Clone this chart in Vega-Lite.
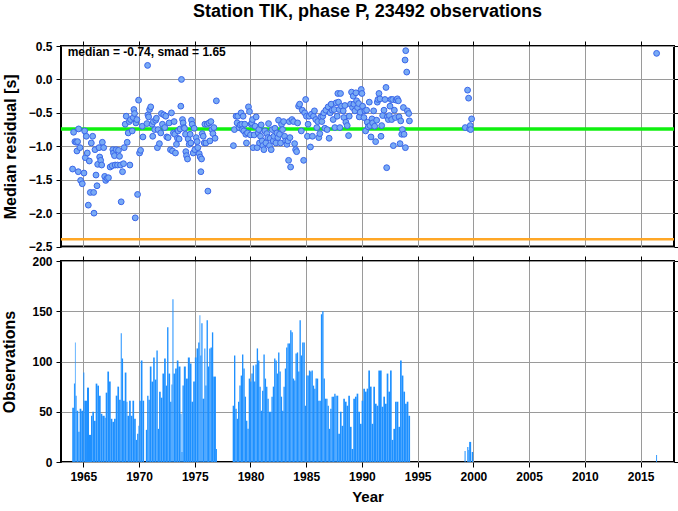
{
"$schema": "https://vega.github.io/schema/vega-lite/v6.json",
"padding": {"left": 0, "top": 2, "right": 0, "bottom": 0},
"config": {
 "font": "Liberation Sans",
 "view": {"stroke": "#000", "strokeWidth": 2},
 "axis": {"domain": false, "tickColor": "#000", "tickSize": 5, "tickWidth": 1, "gridColor": "#9a9a9a", "gridWidth": 1, "gridOpacity": 1, "labelFont": "Liberation Sans", "labelFontWeight": "bold", "labelFontSize": 12, "labelColor": "#000", "labelPadding": 4, "titleFont": "Liberation Sans", "titleFontWeight": "bold", "titleFontSize": 16, "titleColor": "#000"}
},
"datasets": {
 "pts": [
{"t":1964.04,"v":-1.34},{"t":1964.13,"v":-0.79},{"t":1964.25,"v":-0.93},{"t":1964.37,"v":-0.94},{"t":1964.43,"v":-1.07},{"t":1964.49,"v":-0.93},{"t":1964.58,"v":-0.74},{"t":1964.55,"v":-1.38},{"t":1964.7,"v":-1.02},{"t":1964.76,"v":-1.51},{"t":1964.91,"v":-1.56},{"t":1965.06,"v":-1.40},{"t":1965.12,"v":-0.77},{"t":1965.18,"v":-1.17},{"t":1965.27,"v":-0.85},{"t":1965.36,"v":-1.10},{"t":1965.45,"v":-1.88},{"t":1965.54,"v":-1.22},{"t":1965.63,"v":-1.69},{"t":1965.72,"v":-0.95},{"t":1965.84,"v":-0.85},{"t":1965.93,"v":-1.69},{"t":1965.96,"v":-2.0},{"t":1966.05,"v":-1.05},{"t":1966.14,"v":-1.43},{"t":1966.23,"v":-1.59},{"t":1966.29,"v":-1.27},{"t":1966.41,"v":-1.02},{"t":1966.47,"v":-1.16},{"t":1966.56,"v":-1.21},{"t":1966.65,"v":-1.28},{"t":1966.71,"v":-0.94},{"t":1966.83,"v":-1.02},{"t":1966.92,"v":-1.45},{"t":1967.01,"v":-1.51},{"t":1967.13,"v":-1.48},{"t":1967.26,"v":-1.47},{"t":1967.41,"v":-1.31},{"t":1967.59,"v":-1.29},{"t":1967.65,"v":-1.05},{"t":1967.71,"v":-1.10},{"t":1967.8,"v":-1.14},{"t":1967.86,"v":-1.28},{"t":1967.95,"v":-1.05},{"t":1968.07,"v":-1.28},{"t":1968.16,"v":-1.06},{"t":1968.25,"v":-1.15},{"t":1968.34,"v":-1.28},{"t":1968.4,"v":-1.83},{"t":1968.52,"v":-1.38},{"t":1968.61,"v":-1.26},{"t":1968.67,"v":-1.02},{"t":1968.76,"v":-0.67},{"t":1968.85,"v":-0.55},{"t":1968.94,"v":-0.94},{"t":1969.03,"v":-0.80},{"t":1969.12,"v":-0.63},{"t":1969.18,"v":-1.28},{"t":1969.24,"v":-0.60},{"t":1969.39,"v":-0.77},{"t":1969.48,"v":-0.57},{"t":1969.54,"v":-0.45},{"t":1969.6,"v":-0.51},{"t":1969.66,"v":-2.07},{"t":1969.72,"v":-0.65},{"t":1969.81,"v":-0.60},{"t":1969.87,"v":-1.72},{"t":1969.96,"v":-0.31},{"t":1970.05,"v":-1.10},{"t":1970.14,"v":-1.06},{"t":1970.29,"v":-0.70},{"t":1970.35,"v":-0.86},
{"t":1970.71,"v":-0.66},{"t":1970.77,"v":0.21},{"t":1970.8,"v":-0.53},{"t":1970.86,"v":-0.56},{"t":1970.95,"v":-0.45},{"t":1971.05,"v":-0.41},{"t":1971.17,"v":-0.67},{"t":1971.23,"v":-0.85},{"t":1971.29,"v":-0.63},{"t":1971.41,"v":-0.75},{"t":1971.50,"v":-0.61},{"t":1971.56,"v":-0.58},{"t":1971.65,"v":-1.02},{"t":1971.71,"v":-0.75},{"t":1971.83,"v":-0.96},{"t":1971.95,"v":-0.80},{"t":1972.01,"v":-0.51},{"t":1972.1,"v":-0.67},{"t":1972.22,"v":-0.53},{"t":1972.31,"v":-0.72},{"t":1972.4,"v":-0.55},{"t":1972.49,"v":-0.86},{"t":1972.61,"v":-0.87},{"t":1972.7,"v":-0.65},{"t":1972.82,"v":-1.05},{"t":1972.91,"v":-0.50},{"t":1973.0,"v":-1.07},{"t":1973.09,"v":-0.80},{"t":1973.15,"v":-0.63},{"t":1973.21,"v":-0.82},{"t":1973.27,"v":-1.10},{"t":1973.36,"v":-0.97},{"t":1973.45,"v":-0.88},{"t":1973.51,"v":-0.77},{"t":1973.6,"v":-0.89},{"t":1973.69,"v":-0.74},{"t":1973.75,"v":-0.40},{"t":1973.81,"v":0.0},{"t":1973.9,"v":-0.60},{"t":1973.96,"v":-0.65},{"t":1974.02,"v":-0.72},{"t":1974.08,"v":-0.73},{"t":1974.17,"v":-0.82},{"t":1974.2,"v":-1.08},{"t":1974.26,"v":-1.14},{"t":1974.35,"v":-1.19},{"t":1974.41,"v":-0.89},{"t":1974.5,"v":-0.97},{"t":1974.59,"v":-0.82},{"t":1974.65,"v":-0.95},{"t":1974.71,"v":-0.61},{"t":1974.77,"v":-0.67},{"t":1974.86,"v":-1.10},{"t":1974.95,"v":-0.73},{"t":1975.01,"v":-1.05},{"t":1975.13,"v":-0.87},{"t":1975.22,"v":-0.93},{"t":1975.28,"v":-1.02},{"t":1975.40,"v":-1.11},{"t":1975.49,"v":-1.16},{"t":1975.55,"v":-1.38},{"t":1975.61,"v":-1.19},{"t":1975.67,"v":-0.81},{"t":1975.76,"v":-0.85},{"t":1975.85,"v":-0.95},{"t":1975.91,"v":-0.67},{"t":1976.0,"v":-0.95},{"t":1976.12,"v":-0.67},{"t":1976.18,"v":-1.67},{"t":1976.27,"v":-0.65},{"t":1976.36,"v":-0.92},{"t":1976.45,"v":-0.63},{"t":1976.54,"v":-0.75},{"t":1976.63,"v":-0.81},{"t":1976.72,"v":-0.72},{"t":1976.82,"v":-0.88},{"t":1976.94,"v":-0.32},
{"t":1978.47,"v":-0.99},{"t":1978.56,"v":-0.75},{"t":1978.71,"v":-0.55},{"t":1978.8,"v":-0.65},{"t":1978.86,"v":-0.55},{"t":1978.98,"v":-0.72},{"t":1979.07,"v":-0.68},{"t":1979.16,"v":-0.50},{"t":1979.22,"v":-0.67},{"t":1979.28,"v":-0.75},{"t":1979.34,"v":-0.55},{"t":1979.4,"v":-0.77},{"t":1979.49,"v":-0.67},{"t":1979.58,"v":-0.82},{"t":1979.64,"v":-0.95},{"t":1979.73,"v":-0.80},{"t":1979.82,"v":-0.41},{"t":1979.91,"v":-0.48},{"t":1980.0,"v":-0.83},{"t":1980.06,"v":-0.67},{"t":1980.12,"v":-0.65},{"t":1980.18,"v":-0.60},{"t":1980.24,"v":-1.02},{"t":1980.33,"v":-0.83},{"t":1980.42,"v":-0.70},{"t":1980.51,"v":-0.56},{"t":1980.6,"v":-1.02},{"t":1980.69,"v":-0.80},{"t":1980.75,"v":-0.75},{"t":1980.81,"v":-0.95},{"t":1980.9,"v":-0.85},{"t":1980.96,"v":-0.68},{"t":1981.05,"v":-0.92},{"t":1981.11,"v":-0.99},{"t":1981.2,"v":-1.05},{"t":1981.29,"v":-0.77},{"t":1981.38,"v":-0.95},{"t":1981.47,"v":-0.81},{"t":1981.56,"v":-0.87},{"t":1981.62,"v":-0.66},{"t":1981.71,"v":-0.99},{"t":1981.77,"v":-0.88},{"t":1981.86,"v":-1.05},{"t":1981.95,"v":-0.75},{"t":1982.04,"v":-0.92},{"t":1982.1,"v":-0.85},{"t":1982.19,"v":-0.73},{"t":1982.28,"v":-0.95},{"t":1982.37,"v":-0.80},{"t":1982.46,"v":-0.87},{"t":1982.52,"v":-0.61},{"t":1982.61,"v":-0.82},{"t":1982.70,"v":-0.95},{"t":1982.79,"v":-0.67},{"t":1982.88,"v":-0.75},{"t":1982.97,"v":-0.63},{"t":1983.06,"v":-0.85},{"t":1983.15,"v":-0.92},{"t":1983.27,"v":-0.97},{"t":1983.36,"v":-0.92},{"t":1983.42,"v":-1.21},{"t":1983.48,"v":-0.63},{"t":1983.54,"v":-0.87},{"t":1983.6,"v":-1.31},{"t":1983.72,"v":-0.60},{"t":1983.87,"v":-0.63},{"t":1983.96,"v":-0.96},{"t":1984.05,"v":-1.05},{"t":1984.14,"v":-1.08},{"t":1984.23,"v":-0.65},{"t":1984.32,"v":-0.40},{"t":1984.41,"v":-0.37},{"t":1984.56,"v":-0.77},{"t":1984.65,"v":-0.46},{"t":1984.77,"v":-1.21},{"t":1984.86,"v":-0.50},{"t":1984.95,"v":-0.30},{"t":1985.02,"v":-0.55},{"t":1985.11,"v":-0.85},{"t":1985.17,"v":-0.67},{"t":1985.26,"v":-0.55},{"t":1985.38,"v":-1.01},{"t":1985.47,"v":-0.52},{"t":1985.56,"v":-0.85},{"t":1985.65,"v":-0.55},{"t":1985.74,"v":-0.47},{"t":1985.86,"v":-0.60},{"t":1985.95,"v":-0.72},{"t":1986.04,"v":-0.63},{"t":1986.13,"v":-0.87},{"t":1986.22,"v":-0.81},{"t":1986.31,"v":-0.56},{"t":1986.4,"v":-0.63},{"t":1986.49,"v":-0.55},{"t":1986.58,"v":-0.50},{"t":1986.67,"v":-0.73},{"t":1986.76,"v":-0.46},{"t":1986.88,"v":-0.75},{"t":1986.97,"v":-0.41},{"t":1987.06,"v":-0.88},{"t":1987.15,"v":-0.50},{"t":1987.24,"v":-0.37},{"t":1987.33,"v":-0.46},{"t":1987.42,"v":-0.60},{"t":1987.51,"v":-0.45},{"t":1987.57,"v":-0.72},{"t":1987.69,"v":-0.35},{"t":1987.78,"v":-0.55},{"t":1987.84,"v":-0.21},
{"t":1987.9,"v":-0.34},{"t":1987.96,"v":-0.45},{"t":1988.08,"v":-0.21},{"t":1988.02,"v":-0.72},{"t":1988.17,"v":-0.40},{"t":1988.32,"v":-0.47},{"t":1988.38,"v":-0.57},{"t":1988.47,"v":-0.39},{"t":1988.56,"v":-0.64},{"t":1988.68,"v":-0.69},{"t":1988.80,"v":-0.84},{"t":1988.86,"v":-0.55},{"t":1988.98,"v":-0.37},{"t":1989.07,"v":-0.19},{"t":1989.16,"v":-0.42},{"t":1989.22,"v":-0.25},{"t":1989.28,"v":-0.37},{"t":1989.37,"v":-0.47},{"t":1989.46,"v":-0.20},{"t":1989.52,"v":-0.32},{"t":1989.61,"v":-0.42},{"t":1989.70,"v":-0.36},{"t":1989.76,"v":-0.56},{"t":1989.85,"v":-0.49},{"t":1989.94,"v":-0.15},{"t":1990.0,"v":-0.21},{"t":1990.06,"v":-0.40},{"t":1990.18,"v":-0.57},{"t":1990.27,"v":-0.47},{"t":1990.33,"v":-0.77},{"t":1990.42,"v":-0.46},{"t":1990.48,"v":-0.64},{"t":1990.57,"v":-0.71},{"t":1990.66,"v":-0.34},{"t":1990.72,"v":-0.69},{"t":1990.81,"v":-0.86},{"t":1990.90,"v":-0.59},{"t":1990.96,"v":-0.65},{"t":1991.05,"v":-0.47},{"t":1991.14,"v":-0.70},{"t":1991.23,"v":-0.93},{"t":1991.32,"v":-0.61},{"t":1991.38,"v":-0.34},{"t":1991.44,"v":-0.30},{"t":1991.53,"v":-0.21},{"t":1991.62,"v":-0.29},{"t":1991.71,"v":-0.85},{"t":1991.77,"v":-0.69},{"t":1991.86,"v":-0.54},{"t":1991.98,"v":-0.46},{"t":1992.07,"v":-0.30},{"t":1992.16,"v":-0.12},{"t":1992.22,"v":-1.32},{"t":1992.28,"v":-0.56},{"t":1992.37,"v":-0.60},{"t":1992.46,"v":-0.54},{"t":1992.52,"v":-0.40},{"t":1992.61,"v":-0.30},{"t":1992.67,"v":-0.60},{"t":1992.76,"v":-0.30},{"t":1992.82,"v":-0.99},{"t":1992.91,"v":-0.46},{"t":1993.0,"v":-0.57},{"t":1993.06,"v":-0.31},{"t":1993.18,"v":-0.29},{"t":1993.27,"v":-0.32},{"t":1993.33,"v":-0.56},{"t":1993.42,"v":-0.96},{"t":1993.48,"v":-0.62},{"t":1993.57,"v":-0.82},{"t":1993.63,"v":-0.75},{"t":1993.72,"v":-0.42},{"t":1993.78,"v":-0.82},{"t":1993.87,"v":0.29},{"t":1993.90,"v":-1.02},{"t":1993.93,"v":0.43},{"t":1994.02,"v":0.11},{"t":1994.08,"v":-0.47},{"t":1994.20,"v":-0.51},{"t":1994.26,"v":-0.62},
{"t":1999.27,"v":-0.72},{"t":1999.48,"v":-0.16},{"t":1999.57,"v":-0.28},{"t":1999.66,"v":-0.74},{"t":1999.72,"v":-0.69},{"t":1999.75,"v":-0.75},{"t":1999.84,"v":-0.59},
{"t":2016.44,"v":0.39}
 ],
 "bars": [
{"a":1964.01,"b":1964.16,"n":54},{"a":1964.16,"b":1964.25,"n":78},{"a":1964.25,"b":1964.31,"n":119},{"a":1964.31,"b":1964.40,"n":66},{"a":1964.40,"b":1964.55,"n":51},{"a":1964.55,"b":1964.67,"n":30},{"a":1964.67,"b":1964.82,"n":53},{"a":1964.82,"b":1965.0,"n":51},{"a":1965.0,"b":1965.09,"n":89},{"a":1965.09,"b":1965.33,"n":61},{"a":1965.33,"b":1965.51,"n":74},{"a":1965.51,"b":1965.69,"n":27},{"a":1965.69,"b":1965.81,"n":46},{"a":1965.81,"b":1965.96,"n":50},{"a":1965.96,"b":1966.11,"n":41},{"a":1966.11,"b":1966.26,"n":78},{"a":1966.26,"b":1966.41,"n":76},{"a":1966.41,"b":1966.56,"n":66},{"a":1966.56,"b":1966.71,"n":48},{"a":1966.71,"b":1966.92,"n":46},{"a":1966.92,"b":1967.01,"n":44},{"a":1967.01,"b":1967.16,"n":69},{"a":1967.16,"b":1967.31,"n":90},{"a":1967.31,"b":1967.46,"n":80},{"a":1967.46,"b":1967.61,"n":43},{"a":1967.61,"b":1967.76,"n":40},{"a":1967.76,"b":1967.91,"n":43},{"a":1967.91,"b":1968.06,"n":66},{"a":1968.06,"b":1968.21,"n":75},{"a":1968.21,"b":1968.36,"n":62},{"a":1968.36,"b":1968.45,"n":128},{"a":1968.45,"b":1968.57,"n":103},{"a":1968.57,"b":1968.72,"n":61},{"a":1968.72,"b":1968.87,"n":89},{"a":1968.87,"b":1968.96,"n":60},{"a":1968.96,"b":1969.11,"n":46},{"a":1969.11,"b":1969.26,"n":61},{"a":1969.26,"b":1969.41,"n":46},{"a":1969.41,"b":1969.56,"n":61},{"a":1969.56,"b":1969.71,"n":43},{"a":1969.71,"b":1969.83,"n":22},{"a":1969.83,"b":1969.95,"n":28},{"a":1969.95,"b":1970.04,"n":36},{"a":1970.04,"b":1970.16,"n":61},{"a":1970.16,"b":1970.31,"n":101},{"a":1970.31,"b":1970.46,"n":61},
{"a":1970.61,"b":1970.73,"n":32},{"a":1970.73,"b":1970.85,"n":66},{"a":1970.85,"b":1970.97,"n":62},{"a":1970.97,"b":1971.12,"n":95},{"a":1971.12,"b":1971.27,"n":80},{"a":1971.27,"b":1971.41,"n":104},{"a":1971.41,"b":1971.56,"n":82},{"a":1971.56,"b":1971.68,"n":111},{"a":1971.68,"b":1971.80,"n":33},{"a":1971.80,"b":1971.95,"n":70},{"a":1971.95,"b":1972.10,"n":64},{"a":1972.10,"b":1972.25,"n":88},{"a":1972.25,"b":1972.40,"n":103},{"a":1972.40,"b":1972.52,"n":76},{"a":1972.52,"b":1972.64,"n":134},{"a":1972.64,"b":1972.79,"n":88},{"a":1972.79,"b":1972.91,"n":60},{"a":1972.91,"b":1973.0,"n":77},{"a":1973.0,"b":1973.09,"n":162},{"a":1973.09,"b":1973.24,"n":88},{"a":1973.24,"b":1973.39,"n":93},{"a":1973.39,"b":1973.54,"n":101},{"a":1973.54,"b":1973.72,"n":95},{"a":1973.72,"b":1973.81,"n":48},{"a":1973.81,"b":1973.90,"n":10},{"a":1973.90,"b":1974.02,"n":76},{"a":1974.02,"b":1974.20,"n":95},{"a":1974.20,"b":1974.38,"n":83},{"a":1974.38,"b":1974.56,"n":104},{"a":1974.56,"b":1974.71,"n":98},{"a":1974.71,"b":1974.86,"n":60},{"a":1974.86,"b":1975.01,"n":80},{"a":1975.01,"b":1975.16,"n":104},{"a":1975.16,"b":1975.31,"n":113},{"a":1975.31,"b":1975.43,"n":119},{"a":1975.43,"b":1975.50,"n":146},{"a":1975.50,"b":1975.59,"n":106},{"a":1975.59,"b":1975.70,"n":138},{"a":1975.70,"b":1975.86,"n":63},{"a":1975.86,"b":1975.95,"n":113},{"a":1975.95,"b":1976.06,"n":76},{"a":1976.06,"b":1976.18,"n":141},{"a":1976.18,"b":1976.30,"n":95},{"a":1976.30,"b":1976.42,"n":113},{"a":1976.42,"b":1976.54,"n":114},{"a":1976.54,"b":1976.66,"n":129},{"a":1976.66,"b":1976.90,"n":85},{"a":1976.90,"b":1976.99,"n":13},
{"a":1978.403,"b":1978.523,"n":56},{"a":1978.523,"b":1978.643,"n":106},{"a":1978.643,"b":1978.763,"n":53},{"a":1978.763,"b":1978.883,"n":43},{"a":1978.883,"b":1979.003,"n":60},{"a":1979.003,"b":1979.122,"n":76},{"a":1979.122,"b":1979.242,"n":86},{"a":1979.242,"b":1979.362,"n":107},{"a":1979.362,"b":1979.482,"n":93},{"a":1979.482,"b":1979.602,"n":65},{"a":1979.602,"b":1979.722,"n":41},{"a":1979.722,"b":1979.842,"n":33},{"a":1979.842,"b":1979.962,"n":83},{"a":1979.962,"b":1980.082,"n":80},{"a":1980.082,"b":1980.202,"n":88},{"a":1980.202,"b":1980.321,"n":96},{"a":1980.321,"b":1980.441,"n":80},{"a":1980.441,"b":1980.561,"n":97},{"a":1980.561,"b":1980.681,"n":113},{"a":1980.681,"b":1980.801,"n":101},{"a":1980.801,"b":1980.921,"n":75},{"a":1980.921,"b":1981.041,"n":51},{"a":1981.041,"b":1981.161,"n":71},{"a":1981.161,"b":1981.281,"n":107},{"a":1981.281,"b":1981.400,"n":83},{"a":1981.400,"b":1981.520,"n":75},{"a":1981.520,"b":1981.640,"n":63},{"a":1981.640,"b":1981.760,"n":50},{"a":1981.760,"b":1981.880,"n":50},{"a":1981.880,"b":1982.000,"n":65},{"a":1982.000,"b":1982.120,"n":75},{"a":1982.120,"b":1982.240,"n":103},{"a":1982.240,"b":1982.360,"n":101},{"a":1982.360,"b":1982.479,"n":88},{"a":1982.479,"b":1982.599,"n":109},{"a":1982.599,"b":1982.719,"n":90},{"a":1982.719,"b":1982.839,"n":65},{"a":1982.839,"b":1982.959,"n":51},{"a":1982.959,"b":1983.079,"n":75},{"a":1983.079,"b":1983.199,"n":93},{"a":1983.199,"b":1983.319,"n":114},{"a":1983.319,"b":1983.439,"n":118},{"a":1983.439,"b":1983.558,"n":118},{"a":1983.558,"b":1983.678,"n":131},{"a":1983.678,"b":1983.798,"n":129},{"a":1983.798,"b":1983.918,"n":83},{"a":1983.918,"b":1984.038,"n":81},{"a":1984.038,"b":1984.158,"n":108},{"a":1984.158,"b":1984.278,"n":109},{"a":1984.278,"b":1984.398,"n":90},{"a":1984.398,"b":1984.518,"n":141},{"a":1984.518,"b":1984.637,"n":106},{"a":1984.637,"b":1984.757,"n":119},{"a":1984.757,"b":1984.877,"n":119},{"a":1984.877,"b":1984.997,"n":56},{"a":1984.997,"b":1985.117,"n":86},{"a":1985.117,"b":1985.237,"n":86},{"a":1985.237,"b":1985.357,"n":91},{"a":1985.357,"b":1985.477,"n":90},{"a":1985.477,"b":1985.597,"n":91},{"a":1985.597,"b":1985.716,"n":76},{"a":1985.716,"b":1985.836,"n":73},{"a":1985.836,"b":1985.956,"n":83},{"a":1985.956,"b":1986.076,"n":83},{"a":1986.076,"b":1986.196,"n":61},{"a":1986.196,"b":1986.316,"n":61},{"a":1986.316,"b":1986.436,"n":147},{"a":1986.436,"b":1986.556,"n":150},{"a":1986.556,"b":1986.676,"n":83},{"a":1986.676,"b":1986.796,"n":63},{"a":1986.796,"b":1986.915,"n":63},{"a":1986.915,"b":1987.035,"n":56},{"a":1987.035,"b":1987.155,"n":33},{"a":1987.155,"b":1987.275,"n":53},{"a":1987.275,"b":1987.395,"n":65},{"a":1987.395,"b":1987.515,"n":65},{"a":1987.515,"b":1987.635,"n":68},{"a":1987.635,"b":1987.725,"n":66},
{"a":1987.725,"b":1987.875,"n":66},{"a":1987.875,"b":1988.025,"n":28},{"a":1988.025,"b":1988.175,"n":50},{"a":1988.175,"b":1988.325,"n":36},{"a":1988.325,"b":1988.474,"n":63},{"a":1988.474,"b":1988.624,"n":60},{"a":1988.624,"b":1988.774,"n":56},{"a":1988.774,"b":1988.924,"n":66},{"a":1988.924,"b":1989.074,"n":35},{"a":1989.074,"b":1989.224,"n":13},{"a":1989.224,"b":1989.374,"n":63},{"a":1989.374,"b":1989.524,"n":65},{"a":1989.524,"b":1989.673,"n":68},{"a":1989.673,"b":1989.823,"n":50},{"a":1989.823,"b":1989.973,"n":38},{"a":1989.973,"b":1990.123,"n":61},{"a":1990.123,"b":1990.273,"n":73},{"a":1990.273,"b":1990.423,"n":70},{"a":1990.423,"b":1990.573,"n":73},{"a":1990.573,"b":1990.723,"n":91},{"a":1990.723,"b":1990.872,"n":75},{"a":1990.872,"b":1991.022,"n":38},{"a":1991.022,"b":1991.172,"n":75},{"a":1991.172,"b":1991.322,"n":58},{"a":1991.322,"b":1991.472,"n":56},{"a":1991.472,"b":1991.622,"n":91},{"a":1991.622,"b":1991.772,"n":91},{"a":1991.772,"b":1991.922,"n":55},{"a":1991.922,"b":1992.071,"n":65},{"a":1992.071,"b":1992.221,"n":58},{"a":1992.221,"b":1992.371,"n":88},{"a":1992.371,"b":1992.521,"n":70},{"a":1992.521,"b":1992.671,"n":91},{"a":1992.671,"b":1992.821,"n":22},{"a":1992.821,"b":1992.971,"n":33},{"a":1992.971,"b":1993.121,"n":60},{"a":1993.121,"b":1993.270,"n":60},{"a":1993.270,"b":1993.420,"n":35},{"a":1993.420,"b":1993.570,"n":101},{"a":1993.570,"b":1993.720,"n":86},{"a":1993.720,"b":1993.870,"n":70},{"a":1993.870,"b":1994.020,"n":58},{"a":1994.020,"b":1994.170,"n":60},{"a":1994.170,"b":1994.320,"n":46},
{"a":1999.21,"b":1999.30,"n":11},{"a":1999.45,"b":1999.55,"n":15},{"a":1999.55,"b":1999.62,"n":12},{"a":1999.62,"b":1999.80,"n":20},{"a":1999.85,"b":1999.98,"n":10},{"a":2016.40,"b":2016.48,"n":7}
 ]
},
"spacing": 0,
"vconcat": [
 {
  "width": 613, "height": 200.6,
  "title": {"text": "Station TIK, phase P, 23492 observations", "fontSize": 18, "fontWeight": "bold", "font": "Liberation Sans", "anchor": "middle", "frame": "group", "offset": 19, "color": "#000"},
  "layer": [
   {"data": {"values": [{"v": -0.74}]}, "mark": {"type": "rule", "color": "#10f010", "strokeWidth": 3.5},
    "encoding": {"y": {"field": "v", "type": "quantitative", "scale": {"domain": [-2.5, 0.5], "nice": false, "zero": false},
      "axis": {"orient": "left", "values": [-2.5, -2, -1.5, -1, -0.5, 0, 0.5], "format": ".1f", "title": "Median residual [s]", "grid": true, "titlePadding": 10}}}},
   {"data": {"values": [{"v": -2.39}]}, "mark": {"type": "rule", "color": "#ffa726", "strokeWidth": 2.5},
    "encoding": {"y": {"field": "v", "type": "quantitative", "scale": {"domain": [-2.5, 0.5], "nice": false, "zero": false}, "axis": null}}},
   {"data": {"name": "pts"}, "mark": {"type": "circle", "fill": "#78aaf5", "stroke": "#3a66ea", "strokeWidth": 1, "size": 34, "opacity": 1, "fillOpacity": 1},
    "encoding": {
     "x": {"field": "t", "type": "quantitative", "scale": {"domain": [1963, 2018], "nice": false, "zero": false},
       "axis": {"orient": "top", "values": [1965, 1970, 1975, 1980, 1985, 1990, 1995, 2000, 2005, 2010, 2015], "labels": false, "title": null, "grid": true}},
     "y": {"field": "v", "type": "quantitative", "scale": {"domain": [-2.5, 0.5], "nice": false, "zero": false},
       "axis": {"orient": "right", "values": [-2.5, -2, -1.5, -1, -0.5, 0, 0.5], "labels": false, "title": null, "grid": false}}}},
   {"data": {"values": [{"t": 1963.6, "v": 0.35, "label": "median = -0.74, smad = 1.65"}]},
    "mark": {"type": "text", "align": "left", "baseline": "alphabetic", "fontSize": 12, "fontWeight": "bold", "font": "Liberation Sans", "color": "#000"},
    "encoding": {
     "x": {"field": "t", "type": "quantitative", "scale": {"domain": [1963, 2018], "nice": false, "zero": false}, "axis": null},
     "y": {"field": "v", "type": "quantitative", "scale": {"domain": [-2.5, 0.5], "nice": false, "zero": false}, "axis": null},
     "text": {"field": "label"}}}
  ],
  "resolve": {"axis": {"x": "independent", "y": "independent"}}
 },
 {
  "width": 613, "height": 201,
  "data": {"name": "bars"},
  "layer": [
   {"mark": {"type": "rect", "color": "#1e90ff"},
    "encoding": {
     "x": {"field": "a", "type": "quantitative", "scale": {"domain": [1963, 2018], "nice": false, "zero": false},
       "axis": {"orient": "bottom", "values": [1965, 1970, 1975, 1980, 1985, 1990, 1995, 2000, 2005, 2010, 2015], "format": "d", "title": "Year", "titleFontSize": 15, "titlePadding": 7, "grid": true}},
     "x2": {"field": "b"},
     "y": {"field": "n", "type": "quantitative", "scale": {"domain": [0, 200], "nice": false, "zero": true},
       "axis": {"orient": "left", "values": [0, 50, 100, 150, 200], "title": "Observations", "grid": true, "titlePadding": 14}},
     "y2": {"datum": 0}}},
   {"mark": {"type": "point", "opacity": 0},
    "encoding": {
     "x": {"field": "a", "type": "quantitative", "scale": {"domain": [1963, 2018], "nice": false, "zero": false},
       "axis": {"orient": "top", "values": [1965, 1970, 1975, 1980, 1985, 1990, 1995, 2000, 2005, 2010, 2015], "labels": false, "title": null, "grid": false}},
     "y": {"field": "n", "type": "quantitative", "scale": {"domain": [0, 200], "nice": false, "zero": true},
       "axis": {"orient": "right", "values": [0, 50, 100, 150, 200], "labels": false, "title": null, "grid": false}}}}
  ],
  "resolve": {"axis": {"x": "independent", "y": "independent"}}
 }
]
}
